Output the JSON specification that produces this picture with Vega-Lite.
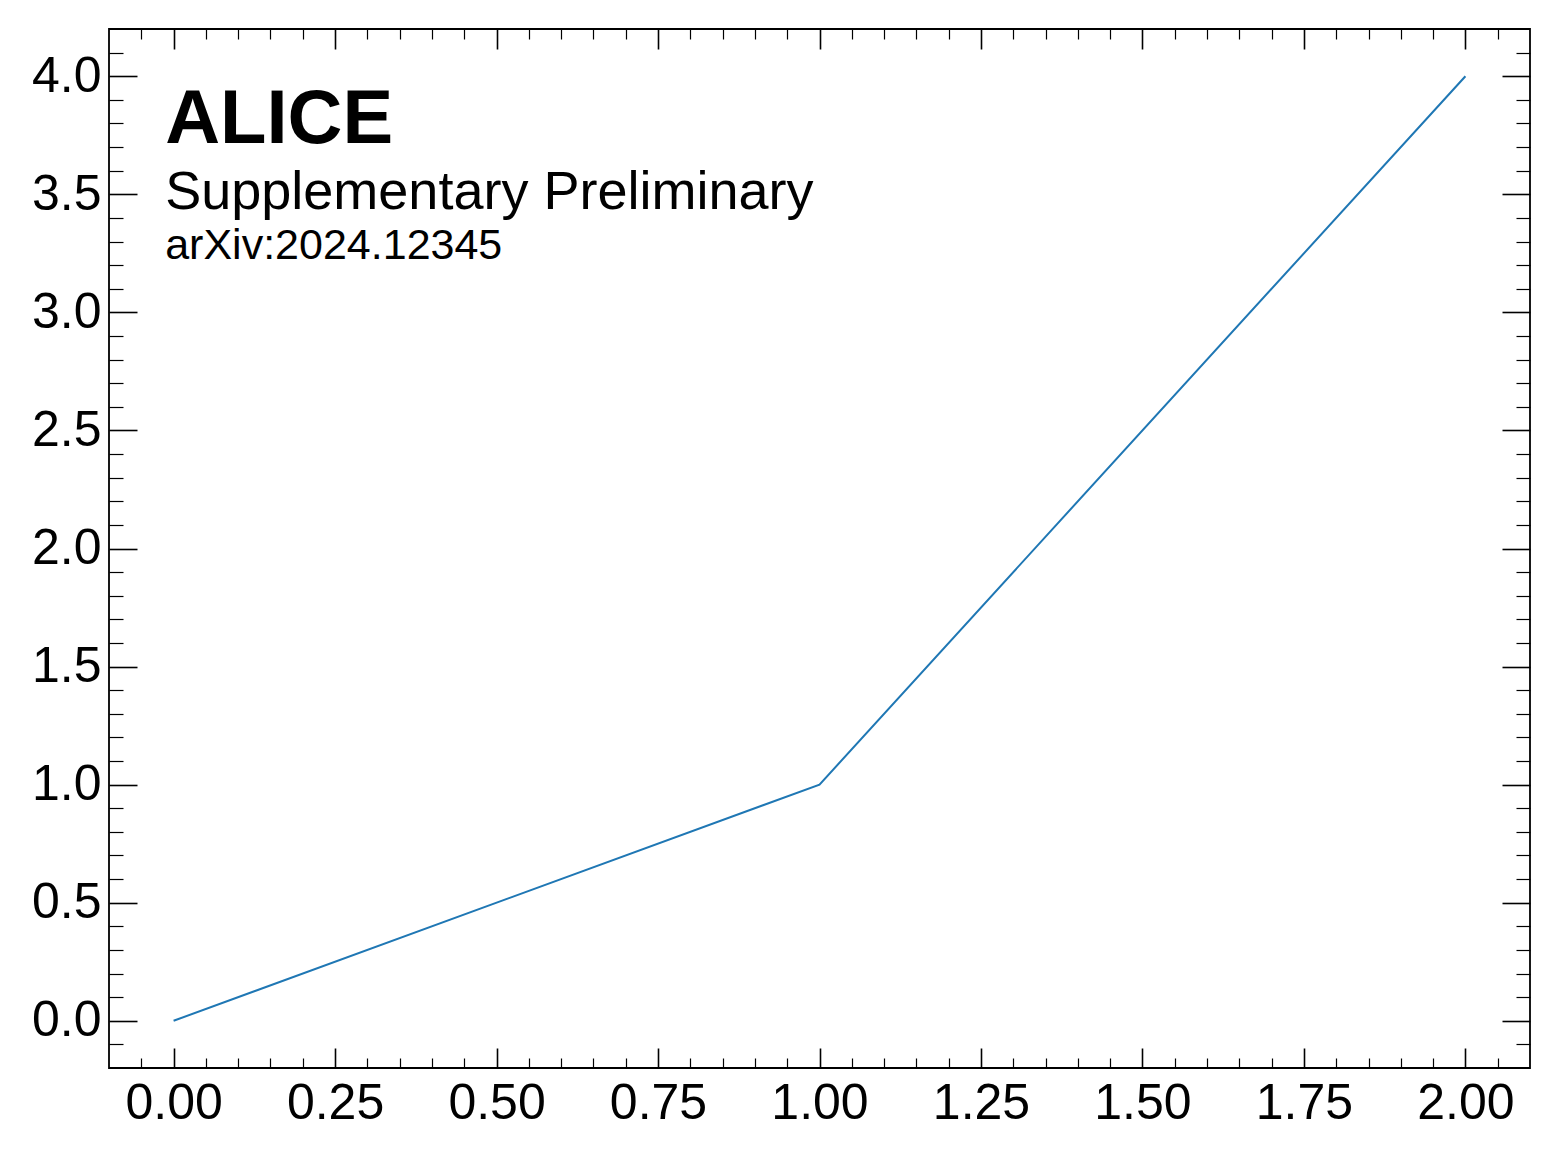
{
  "$schema": "https://vega.github.io/schema/vega-lite/v6.json",
  "width": 1421,
  "height": 1039,
  "autosize": "none",
  "padding": {"left": 109, "top": 29, "right": 31, "bottom": 90},
  "background": "white",
  "config": {
    "view": {"stroke": "black", "strokeWidth": 1.8},
    "axis": {
      "grid": false,
      "domain": false,
      "labelFont": "Liberation Sans",
      "labelFontSize": 50,
      "labelColor": "black",
      "tickColor": "black",
      "labelFlush": false,
      "labelOverlap": false
    }
  },
  "data": {
    "values": [
      {"x": 0, "y": 0},
      {"x": 1, "y": 1},
      {"x": 2, "y": 4}
    ]
  },
  "resolve": {"axis": {"x": "independent", "y": "independent"}},
  "layer": [
    {
      "mark": {"type": "line", "color": "#1f77b4", "strokeWidth": 2},
      "encoding": {
        "x": {
          "field": "x",
          "type": "quantitative",
          "scale": {"domain": [-0.1, 2.1], "nice": false, "zero": false},
          "axis": {
            "orient": "bottom",
            "title": null,
            "values": [0, 0.25, 0.5, 0.75, 1, 1.25, 1.5, 1.75, 2],
            "format": ".2f",
            "tickSize": -20,
            "tickWidth": 1.6,
            "labelPadding": 30
          }
        },
        "y": {
          "field": "y",
          "type": "quantitative",
          "scale": {"domain": [-0.2, 4.2], "nice": false, "zero": false},
          "axis": {
            "orient": "left",
            "title": null,
            "values": [0, 0.5, 1, 1.5, 2, 2.5, 3, 3.5, 4],
            "format": ".1f",
            "tickSize": -28,
            "tickWidth": 1.6,
            "labelPadding": 36
          }
        }
      }
    },
    {
      "mark": {"type": "line", "opacity": 0},
      "encoding": {
        "x": {
          "field": "x",
          "type": "quantitative",
          "axis": {
            "orient": "top",
            "title": null,
            "labels": false,
            "values": [0, 0.25, 0.5, 0.75, 1, 1.25, 1.5, 1.75, 2],
            "tickSize": -20,
            "tickWidth": 1.6
          }
        },
        "y": {
          "field": "y",
          "type": "quantitative",
          "axis": {
            "orient": "right",
            "title": null,
            "labels": false,
            "values": [0, 0.5, 1, 1.5, 2, 2.5, 3, 3.5, 4],
            "tickSize": -28,
            "tickWidth": 1.6
          }
        }
      }
    },
    {
      "mark": {"type": "line", "opacity": 0},
      "encoding": {
        "x": {
          "field": "x",
          "type": "quantitative",
          "axis": {
            "orient": "bottom",
            "title": null,
            "labels": false,
            "values": [-0.05, 0.05, 0.1, 0.15, 0.2, 0.3, 0.35, 0.4, 0.45, 0.55, 0.6, 0.65, 0.7, 0.8, 0.85, 0.9, 0.95, 1.05, 1.1, 1.15, 1.2, 1.3, 1.35, 1.4, 1.45, 1.55, 1.6, 1.65, 1.7, 1.8, 1.85, 1.9, 1.95, 2.05],
            "tickSize": -10,
            "tickWidth": 1.2
          }
        },
        "y": {
          "field": "y",
          "type": "quantitative",
          "axis": {
            "orient": "left",
            "title": null,
            "labels": false,
            "values": [-0.1, 0.1, 0.2, 0.3, 0.4, 0.6, 0.7, 0.8, 0.9, 1.1, 1.2, 1.3, 1.4, 1.6, 1.7, 1.8, 1.9, 2.1, 2.2, 2.3, 2.4, 2.6, 2.7, 2.8, 2.9, 3.1, 3.2, 3.3, 3.4, 3.6, 3.7, 3.8, 3.9, 4.1],
            "tickSize": -14,
            "tickWidth": 1.2
          }
        }
      }
    },
    {
      "mark": {"type": "line", "opacity": 0},
      "encoding": {
        "x": {
          "field": "x",
          "type": "quantitative",
          "axis": {
            "orient": "top",
            "title": null,
            "labels": false,
            "values": [-0.05, 0.05, 0.1, 0.15, 0.2, 0.3, 0.35, 0.4, 0.45, 0.55, 0.6, 0.65, 0.7, 0.8, 0.85, 0.9, 0.95, 1.05, 1.1, 1.15, 1.2, 1.3, 1.35, 1.4, 1.45, 1.55, 1.6, 1.65, 1.7, 1.8, 1.85, 1.9, 1.95, 2.05],
            "tickSize": -10,
            "tickWidth": 1.2
          }
        },
        "y": {
          "field": "y",
          "type": "quantitative",
          "axis": {
            "orient": "right",
            "title": null,
            "labels": false,
            "values": [-0.1, 0.1, 0.2, 0.3, 0.4, 0.6, 0.7, 0.8, 0.9, 1.1, 1.2, 1.3, 1.4, 1.6, 1.7, 1.8, 1.9, 2.1, 2.2, 2.3, 2.4, 2.6, 2.7, 2.8, 2.9, 3.1, 3.2, 3.3, 3.4, 3.6, 3.7, 3.8, 3.9, 4.1],
            "tickSize": -14,
            "tickWidth": 1.2
          }
        }
      }
    },
    {
      "data": {"values": [{"label": "ALICE"}]},
      "mark": {"type": "text", "align": "left", "baseline": "alphabetic", "font": "Liberation Sans", "fontWeight": "bold", "fontSize": 76, "color": "black"},
      "encoding": {
        "x": {"datum": -0.013, "type": "quantitative", "axis": null},
        "y": {"datum": 3.716, "type": "quantitative", "axis": null},
        "text": {"field": "label"}
      }
    },
    {
      "data": {"values": [{"label": "Supplementary Preliminary"}]},
      "mark": {"type": "text", "align": "left", "baseline": "alphabetic", "font": "Liberation Sans", "fontSize": 54, "color": "black"},
      "encoding": {
        "x": {"datum": -0.013, "type": "quantitative", "axis": null},
        "y": {"datum": 3.436, "type": "quantitative", "axis": null},
        "text": {"field": "label"}
      }
    },
    {
      "data": {"values": [{"label": "arXiv:2024.12345"}]},
      "mark": {"type": "text", "align": "left", "baseline": "alphabetic", "font": "Liberation Sans", "fontSize": 43, "color": "black"},
      "encoding": {
        "x": {"datum": -0.013, "type": "quantitative", "axis": null},
        "y": {"datum": 3.228, "type": "quantitative", "axis": null},
        "text": {"field": "label"}
      }
    }
  ]
}
